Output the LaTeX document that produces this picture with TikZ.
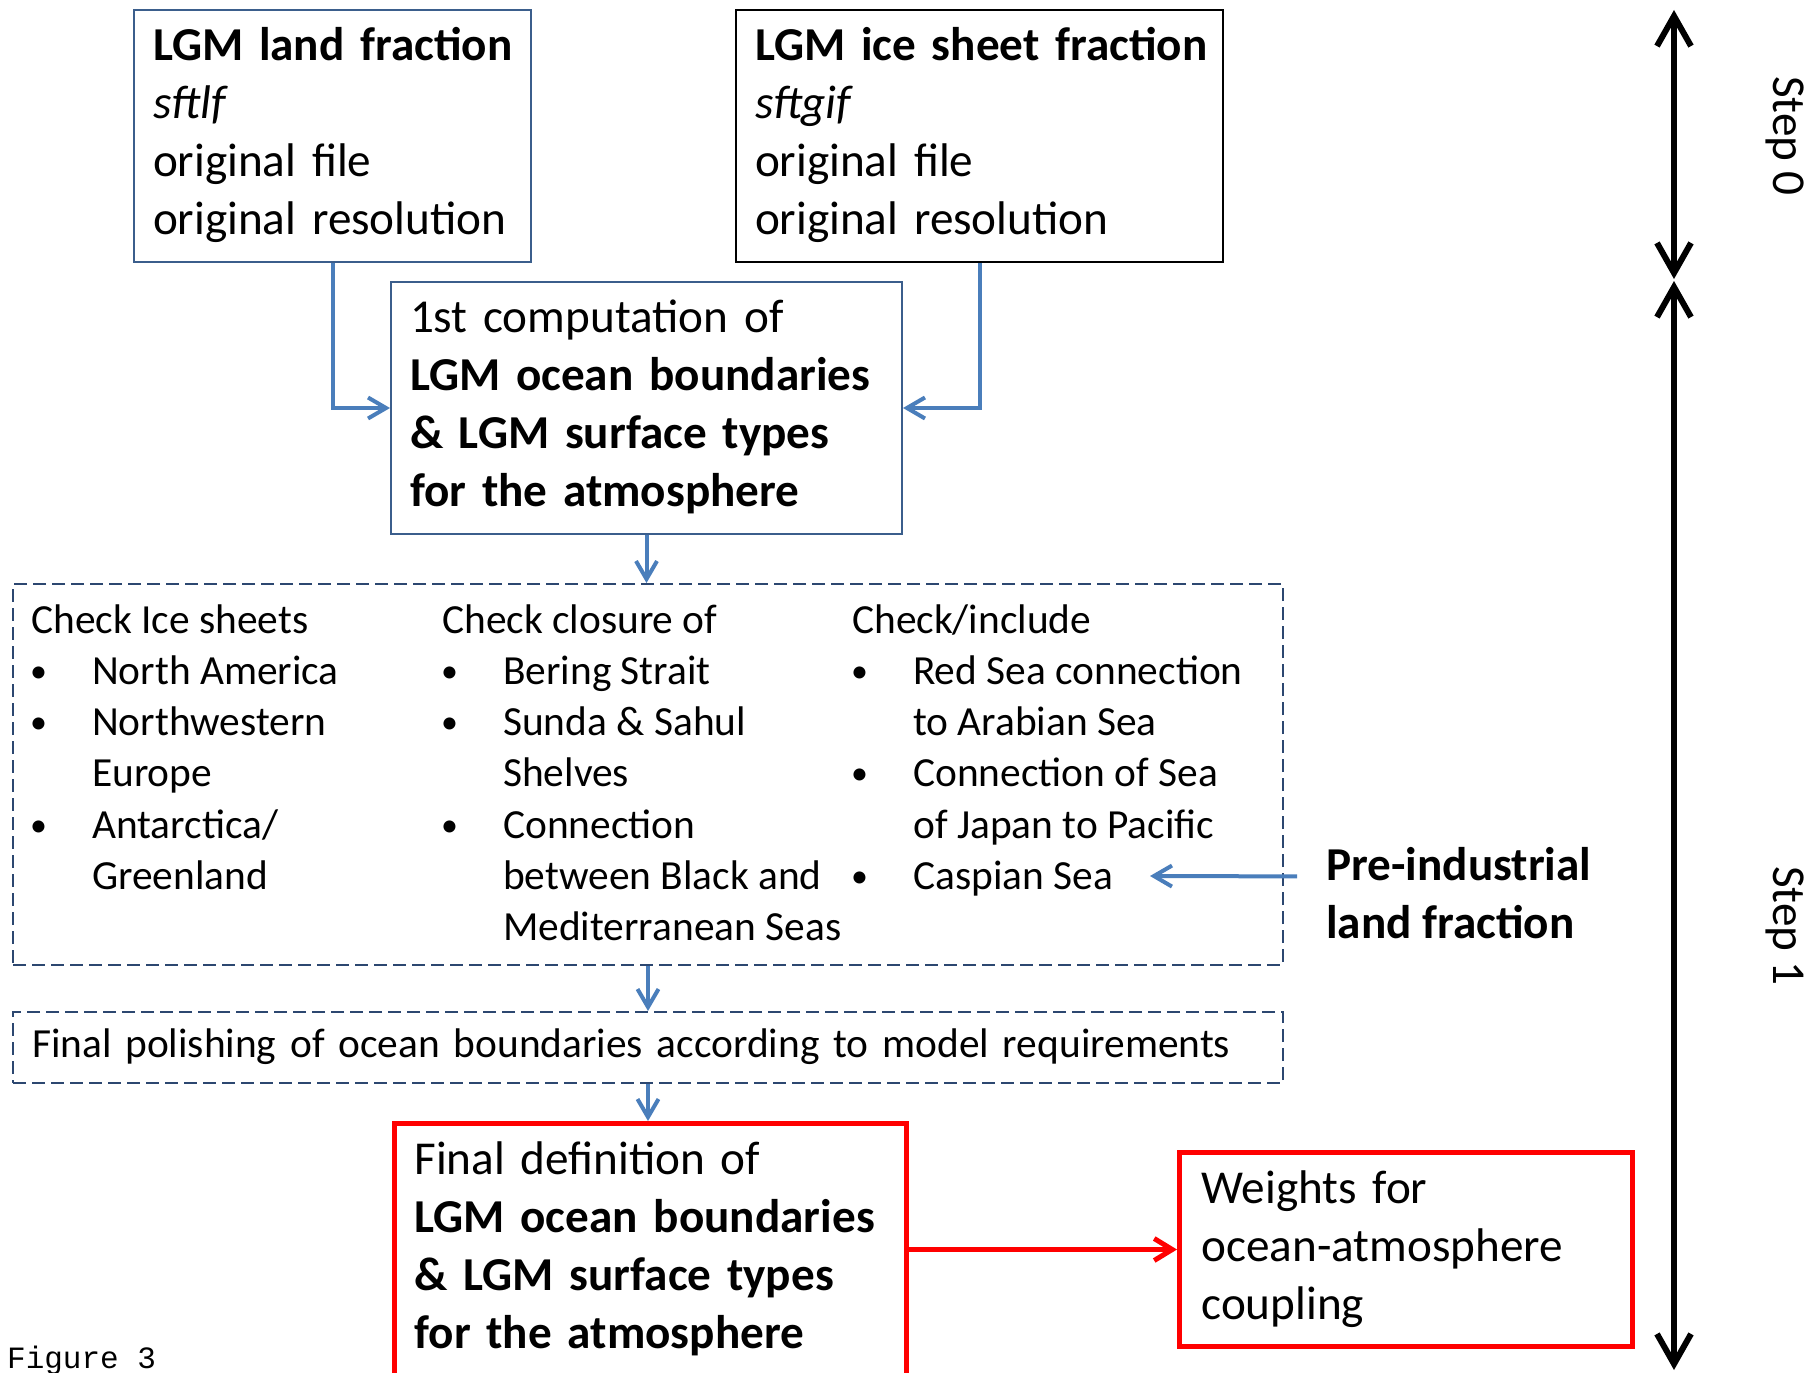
\documentclass[tikz,border=0pt]{standalone}
\usepackage{fontspec}
\setmainfont{Carlito}
\newfontfamily\monofig{Liberation Mono}
\usetikzlibrary{arrows.meta}
\definecolor{arrblue}{HTML}{4A7EBB}
\definecolor{boxblue}{HTML}{3B5E8C}
\definecolor{dashblue}{HTML}{2C4770}
\definecolor{pptred}{HTML}{FF0000}
\tikzset{
  bigtxt/.style={font=\fontsize{47.2}{58}\selectfont},
  smalltxt/.style={font=\fontsize{41.4}{51.3}\selectfont},
  flowbox/.style={line width=2pt, inner ysep=0pt, align=left, bigtxt, anchor=north west},
  redbox/.style={draw=pptred, line width=5pt, inner ysep=0pt, align=left, bigtxt, anchor=north west},
  dashbox/.style={draw=dashblue, line width=2pt, dash pattern=on 13pt off 6pt, inner ysep=0pt, anchor=north west},
  colnode/.style={smalltxt, inner sep=0pt, anchor=base west},
  arr/.style={draw=arrblue, line width=4pt, -{Straight Barb[length=18pt,width=21pt]}},
  redarr/.style={draw=pptred, line width=5pt, -{Straight Barb[length=18pt,width=22pt]}},
  steparr/.style={draw=black, line width=6pt, {Straight Barb[length=30pt,width=34pt]}-{Straight Barb[length=30pt,width=34pt]}},
}
\newcommand{\bul}{\hspace*{-1pt}\raisebox{2pt}{\fontsize{34}{34}\selectfont\textbullet}}
\begin{document}
\begin{tikzpicture}[x=1pt,y=-1pt]
\useasboundingbox (0,0) rectangle (1808,1373);

% top boxes
\node[flowbox, draw=boxblue, minimum width=397pt, minimum height=252pt, inner xsep=19pt, text width=359pt] (A) at (133,9)
  {\begin{tabular}{@{}l@{}}\textbf{LGM land fraction}\\ \textit{sftlf}\\ original file\\ original resolution\end{tabular}};
\node[flowbox, draw=black, minimum width=487pt, minimum height=252pt, inner xsep=19pt, text width=449pt] (B) at (735,9)
  {\begin{tabular}{@{}l@{}}\textbf{LGM ice sheet fraction}\\ \textit{sftgif}\\ original file\\ original resolution\end{tabular}};
\node[flowbox, draw=boxblue, minimum width=511pt, minimum height=252pt, inner xsep=19pt, text width=473pt] (C) at (390,281)
  {\begin{tabular}{@{}l@{}}1st computation of\\ \textbf{LGM ocean boundaries}\\ \textbf{\& LGM surface types}\\ \textbf{for the atmosphere}\end{tabular}};

% dashed check box
\node[dashbox, minimum width=1270pt, minimum height=381pt] (D) at (12,583) {};
\node[colnode] (col1) at (31,633) {\begin{tabular}[t]{@{}p{61pt}@{}l@{}}
\multicolumn{2}{@{}l@{}}{Check Ice sheets}\\
\bul & North America\\
\bul & Northwestern\\
 & Europe\\
\bul & Antarctica/\\
 & Greenland
\end{tabular}};
\node[colnode] (col2) at (442,633) {\begin{tabular}[t]{@{}p{61pt}@{}l@{}}
\multicolumn{2}{@{}l@{}}{Check closure of}\\
\bul & Bering Strait\\
\bul & Sunda \& Sahul\\
 & Shelves\\
\bul & Connection\\
 & between Black and\\
 & Mediterranean Seas
\end{tabular}};
\node[colnode] (col3) at (852,633) {\begin{tabular}[t]{@{}p{61pt}@{}l@{}}
\multicolumn{2}{@{}l@{}}{Check/include}\\
\bul & Red Sea connection\\
 & to Arabian Sea\\
\bul & Connection of Sea\\
 & of Japan to Pacific\\
\bul & Caspian Sea
\end{tabular}};

% polishing box
\node[dashbox, smalltxt, align=left, minimum width=1270pt, minimum height=71pt, inner xsep=19pt, text width=1232pt] (E) at (12,1011)
  {\begin{tabular}{@{}l@{}}Final polishing of ocean boundaries according to model requirements\end{tabular}};

% red boxes
\node[redbox, minimum width=512pt, minimum height=252pt, inner xsep=20pt, text width=472pt] (F) at (392,1121)
  {\begin{tabular}{@{}l@{}}Final definition of\\ \textbf{LGM ocean boundaries}\\ \textbf{\& LGM surface types}\\ \textbf{for the atmosphere}\end{tabular}};
\node[redbox, minimum width=453pt, minimum height=194pt, inner xsep=22pt, text width=409pt] (G) at (1177,1150)
  {\begin{tabular}{@{}l@{}}Weights for\\ ocean-atmosphere\\ coupling\end{tabular}};

% pre-industrial
\node[bigtxt, inner sep=0pt, anchor=base west] (pre) at (1326,880)
  {\begin{tabular}[t]{@{}l@{}}\textbf{Pre-industrial}\\ \textbf{land fraction}\end{tabular}};
\coordinate (caspian) at (1150,876);

% steps
\coordinate (s0top) at (1674,10);
\coordinate (s0bot) at (1674,279);
\coordinate (s1top) at (1674,281);
\coordinate (s1bot) at (1674,1370);
\draw[steparr] (s0top) -- (s0bot);
\draw[steparr] (s1top) -- (s1bot);
\node[bigtxt, rotate=-90, inner sep=0pt] (step0) at (1785,136) {Step 0};
\node[bigtxt, rotate=-90, inner sep=0pt] (step1) at (1785,926) {Step 1};

% figure label
\node[font=\monofig\fontsize{31}{36}\selectfont, anchor=base west, inner sep=0pt] (fig) at (7,1368) {Figure 3};

% connectors
\draw[arr] (A.south) |- (C.west);
\draw[arr] (B.south) |- (C.east);
\draw[arr] (C.south) -- (C.south |- D.north);
\draw[arr] (D.south) -- (E.north);
\draw[arr] (E.south) -- (E.south |- F.north);
\draw[arr] ([xshift=-29pt,yshift=21pt]pre.west) -- (caspian);
\draw[redarr] (F.east) -- (G.west);
\end{tikzpicture}
\end{document}
